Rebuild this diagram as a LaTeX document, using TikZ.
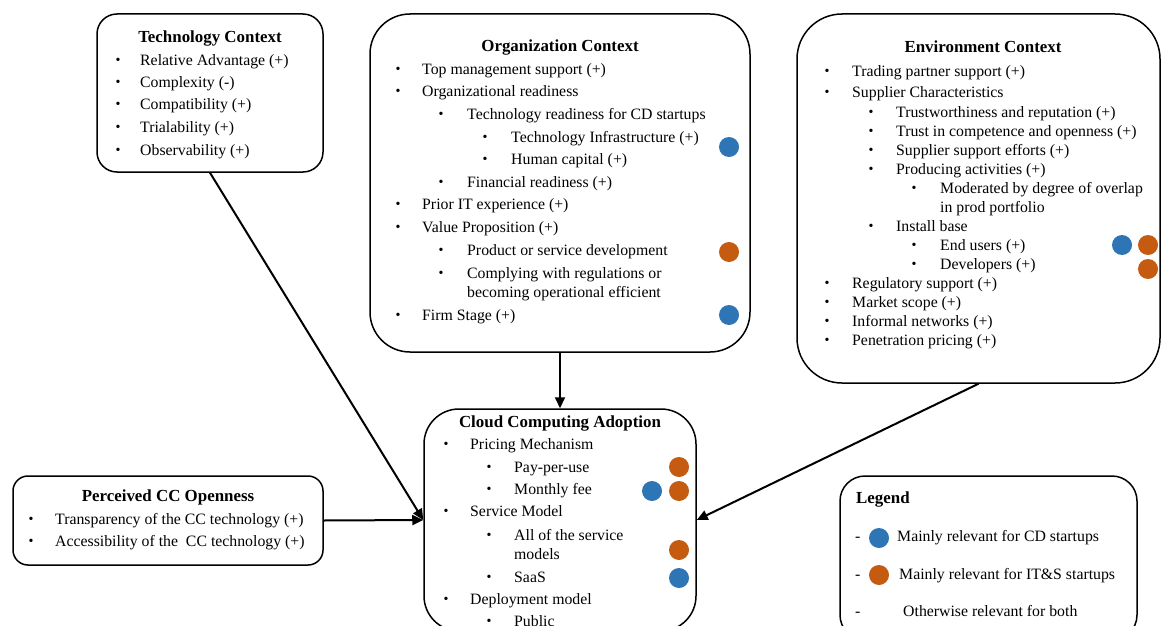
\documentclass[tikz,border=0pt]{standalone}
\usepackage{fontspec}
\setmainfont{Liberation Serif}
\usetikzlibrary{arrows.meta}
\definecolor{cdblue}{HTML}{2E75B6}
\definecolor{itorange}{HTML}{C55A11}
\newcommand{\bodyfont}{\fontsize{15.8}{19}\selectfont}
\newcommand{\titlefont}{\bfseries\fontsize{16.9}{20}\selectfont}
\newcommand{\bitem}[5]{\node[bul] (#1b) at (#2,#4) {\textbullet}; \node[txt] (#1) at (#3,#4) {#5};}
\begin{document}
\begin{tikzpicture}[x=1pt,y=-1pt,
  box/.style={draw, line width=1.5pt, inner sep=0pt},
  txt/.style={anchor=west, font=\bodyfont, inner sep=0pt, text height=11pt, text depth=3.5pt, yshift=-2pt},
  ttl/.style={anchor=center, font=\titlefont, inner sep=0pt, text height=12pt, text depth=3.5pt, yshift=-2pt},
  bul/.style={anchor=center, font=\fontsize{14}{14}\selectfont, inner sep=0pt, yshift=-1.5pt},
  bdot/.style={circle, fill=cdblue, minimum size=20pt, inner sep=0pt},
  odot/.style={circle, fill=itorange, minimum size=20pt, inner sep=0pt},
  arr/.style={line width=2pt, -{Triangle[length=11pt,width=10pt]}}]
\useasboundingbox (0,0) rectangle (1162,626);
\clip (0,0) rectangle (1162,626);
\fill[white] (0,0) rectangle (1162,626);

% boxes
\node[box, rounded corners=20pt, minimum width=226pt, minimum height=158pt] (tech) at (210,93) {};
\node[box, rounded corners=40pt, minimum width=380pt, minimum height=338pt] (org) at (560,183) {};
\node[box, rounded corners=45pt, minimum width=363pt, minimum height=369pt] (env) at (978.5,198.5) {};
\node[box, rounded corners=35pt, minimum width=272pt, minimum height=222pt] (cloud) at (560,520) {};
\node[box, rounded corners=15pt, minimum width=310pt, minimum height=89pt] (perc) at (168,520.5) {};
\node[box, rounded corners=25pt, minimum width=297pt, minimum height=164pt] (legend) at (988.5,558) {};

% arrows
\draw[arr] (tech.south) -- (cloud.west);
\draw[arr] (org.south) -- (cloud.north);
\draw[arr] (perc.east) -- (cloud.west);
\draw[arr] (env.south) -- (cloud.east);

% Technology context
\node[ttl] (ttech) at (210,36) {Technology Context};
\bitem{t1}{118}{140}{60}{Relative Advantage (+)}
\bitem{t2}{118}{140}{82}{Complexity (-)}
\bitem{t3}{118}{140}{104}{Compatibility (+)}
\bitem{t4}{118}{140}{127}{Trialability (+)}
\bitem{t5}{118}{140}{150}{Observability (+)}

% Organization context
\node[ttl] (torg) at (560,45) {Organization Context};
\bitem{o1}{398}{422}{69}{Top management support (+)}
\bitem{o2}{398}{422}{91}{Organizational readiness}
\bitem{o3}{441}{467}{114}{Technology readiness for CD startups}
\bitem{o4}{485}{511}{137}{Technology Infrastructure (+)}
\bitem{o5}{485}{511}{159}{Human capital (+)}
\bitem{o6}{441}{467}{182}{Financial readiness (+)}
\bitem{o7}{398}{422}{204}{Prior IT experience (+)}
\bitem{o8}{398}{422}{227}{Value Proposition (+)}
\bitem{o9}{441}{467}{250}{Product or service development}
\bitem{o10}{441}{467}{273}{Complying with regulations or}
\node[txt] (o10b2) at (467,292) {becoming operational efficient};
\bitem{o11}{398}{422}{315}{Firm Stage (+)}
\node[bdot] (od1) at (729,147) {};
\node[odot] (od2) at (729,252) {};
\node[bdot] (od3) at (729,315) {};

% Environment context
\node[ttl] (tenv) at (983,46) {Environment Context};
\bitem{e1}{827}{852}{71}{Trading partner support (+)}
\bitem{e2}{827}{852}{92}{Supplier Characteristics}
\bitem{e3}{871}{896}{112}{Trustworthiness and reputation (+)}
\bitem{e4}{871}{896}{131}{Trust in competence and openness (+)}
\bitem{e5}{871}{896}{150}{Supplier support efforts (+)}
\bitem{e6}{871}{896}{169}{Producing activities (+)}
\bitem{e7}{914}{940}{188}{Moderated by degree of overlap}
\node[txt] (e7b2) at (940,207) {in prod portfolio};
\bitem{e8}{871}{896}{226}{Install base}
\bitem{e9}{914}{940}{245}{End users (+)}
\bitem{e10}{914}{940}{264}{Developers (+)}
\bitem{e11}{827}{852}{283}{Regulatory support (+)}
\bitem{e12}{827}{852}{302}{Market scope (+)}
\bitem{e13}{827}{852}{321}{Informal networks (+)}
\bitem{e14}{827}{852}{340}{Penetration pricing (+)}
\node[bdot] (ed1) at (1122,245) {};
\node[odot] (ed2) at (1148,245) {};
\node[odot] (ed3) at (1148,269) {};

% Cloud computing adoption
\node[ttl] (tcloud) at (560,421) {Cloud Computing Adoption};
\bitem{c1}{446}{470}{444}{Pricing Mechanism}
\bitem{c2}{489}{514}{467}{Pay-per-use}
\bitem{c3}{489}{514}{489}{Monthly fee}
\bitem{c4}{446}{470}{511}{Service Model}
\bitem{c5}{489}{514}{535}{All of the service}
\node[txt] (c5b2) at (514,554) {models};
\bitem{c6}{489}{514}{577}{SaaS}
\bitem{c7}{446}{470}{599}{Deployment model}
\bitem{c8}{489}{514}{621}{Public}
\node[odot] (cd1) at (679,467) {};
\node[bdot] (cd2) at (652,491) {};
\node[odot] (cd3) at (679,491) {};
\node[odot] (cd4) at (679,550) {};
\node[bdot] (cd5) at (679,578) {};

% Perceived CC openness
\node[ttl] (tperc) at (168,495) {Perceived CC Openness};
\bitem{p1}{31}{55}{519}{Transparency of the CC technology (+)}
\bitem{p2}{31}{55}{541}{Accessibility of the\ \ CC technology (+)}

% Legend
\node[ttl, anchor=west] (tleg) at (856,497) {Legend};
\node[txt] (l1d) at (855,536) {-};
\node[bdot] (l1c) at (879,538) {};
\node[txt] (l1) at (897,536) {Mainly relevant for CD startups};
\node[txt] (l2d) at (855,574) {-};
\node[odot] (l2c) at (879,575) {};
\node[txt] (l2) at (899,574) {Mainly relevant for IT\&S startups};
\node[txt] (l3d) at (855,611) {-};
\node[txt] (l3) at (903,611) {Otherwise relevant for both};
\end{tikzpicture}
\end{document}
